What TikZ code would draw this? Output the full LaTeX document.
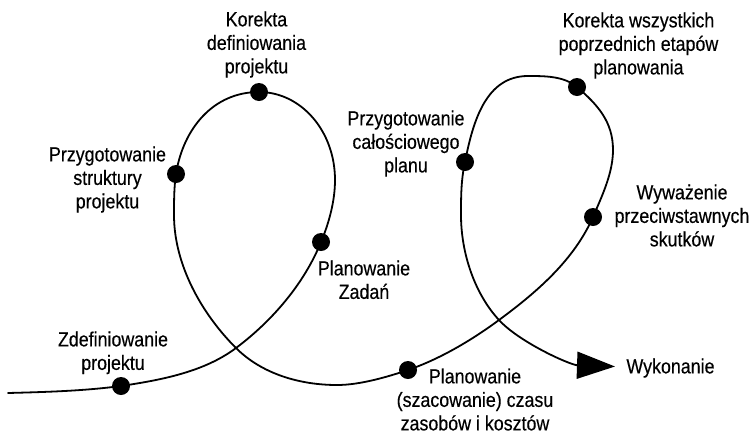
\documentclass[tikz,border=0pt]{standalone}
\usepackage{fontspec}
\setmainfont{Liberation Sans}[FakeStretch=0.87,FakeBold=0.35]
\usetikzlibrary{arrows.meta}
\begin{document}
\begin{tikzpicture}[x=1pt,y=-1pt,
  spiral/.style={line width=1.8pt, line cap=round},
  stage/.style={circle, fill=black, minimum size=18pt, inner sep=0pt},
  caption/.style={align=center, inner sep=0pt, anchor=north,
    font=\fontsize{20.5}{23.5}\selectfont}]
\useasboundingbox (0,0) rectangle (755,437);

% stages marked along the spiral
\node[stage] (zdef)  at (121,386) {};
\node[stage] (zad)   at (321,242) {};
\node[stage] (kdef)  at (259,92)  {};
\node[stage] (pstr)  at (176,174) {};
\node[stage] (czas)  at (408,370) {};
\node[stage] (waz)   at (593,217) {};
\node[stage] (kwsz)  at (577,87)  {};
\node[stage] (pcal)  at (465,162) {};

% way points of the spiral
\coordinate (start) at (8,393);
\coordinate (xa)    at (236,348);
\coordinate (ra)    at (335,180);
\coordinate (la)    at (174,215);
\coordinate (ba)    at (337,385);
\coordinate (xb)    at (499,320);
\coordinate (rb)    at (613,150);
\coordinate (tb)    at (528,76);
\coordinate (lb)    at (461,215);
\coordinate (exec)  at (615,366.5);

% the spiral itself
\draw[spiral, -{Triangle[length=38pt,width=27pt]}]
  (start) .. controls (46,392) and (83,391) .. (zdef.center)
  .. controls (161,380) and (204,372) .. (xa)
  .. controls (272,321) and (304,284) .. (zad.center)
  .. controls (329,223) and (335,201) .. (ra)
  .. controls (335,131) and (301,92) .. (kdef.center)
  .. controls (213,92) and (183,129) .. (pstr.center)
  .. controls (174,187) and (174,202) .. (la)
  .. controls (174,264) and (201,313) .. (xa)
  .. controls (262,374) and (300,385) .. (ba)
  .. controls (360,385) and (387,377) .. (czas.center)
  .. controls (440,359) and (472,340) .. (xb)
  .. controls (537,292) and (574,260) .. (waz.center)
  .. controls (602,196) and (613,173) .. (rb)
  .. controls (613,122) and (598,105) .. (kwsz.center)
  .. controls (564,76) and (545,76) .. (tb)
  .. controls (486,76) and (473,121) .. (pcal.center)
  .. controls (461,180) and (461,197) .. (lb)
  .. controls (461,252) and (474,293) .. (xb)
  .. controls (519,342) and (570,365) .. (exec);

% captions
\node[caption] (tkdef)  at (256.5,11.3)  {Korekta\\definiowania\\projektu};
\node[caption] (tpstr)  at (107.5,146.3) {Przygotowanie\\struktury\\projektu};
\node[caption] (tpcal)  at (406,110.3)   {Przygotowanie\\całościowego\\planu};
\node[caption] (tkwsz)  at (638.5,12.3)  {Korekta wszystkich\\poprzednich etapów\\planowania};
\node[caption] (twaz)   at (682,184.3)   {Wyważenie\\przeciwstawnych\\skutków};
\node[caption] (tzad)   at (364,260.3)   {Planowanie\\Zadań};
\node[caption] (tzdef)  at (113,331.3)   {Zdefiniowanie\\projektu};
\node[caption] (tczas)  at (475,368.3)   {Planowanie\\(szacowanie) czasu\\zasobów i kosztów};
\node[caption] (texec)  at (670.5,358.3) {Wykonanie};
\end{tikzpicture}
\end{document}
